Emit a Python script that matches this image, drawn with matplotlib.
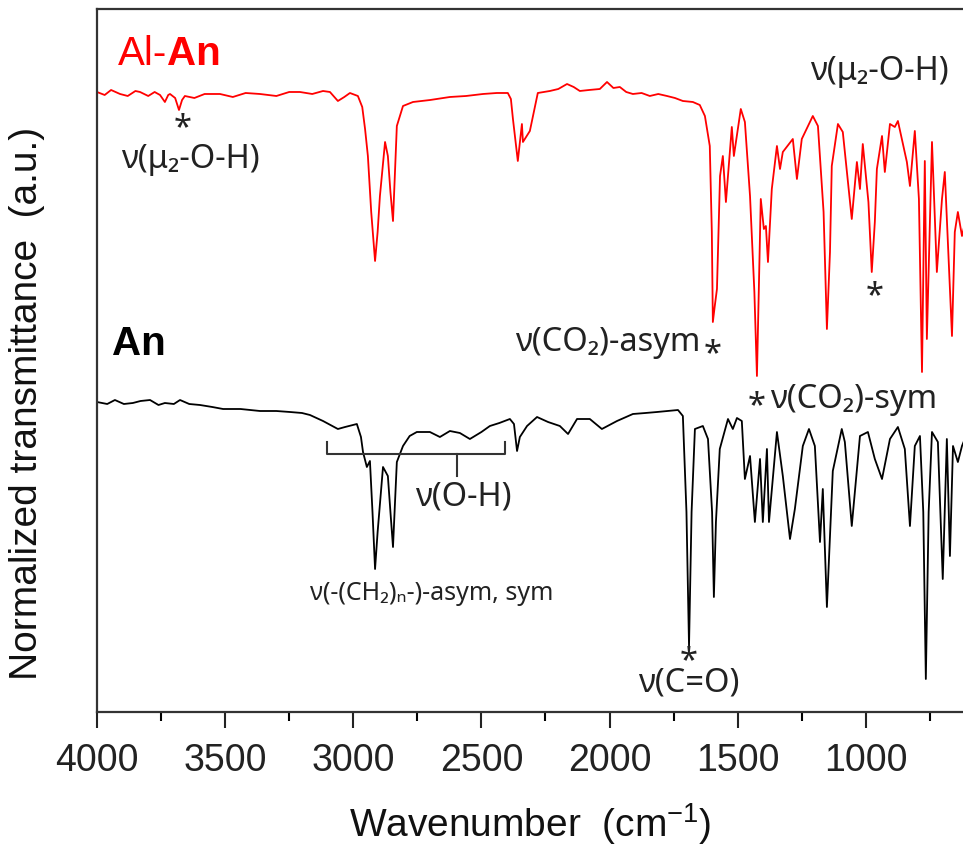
import matplotlib
matplotlib.use("Agg")
import matplotlib.pyplot as plt

plt.rcParams['font.family'] = ['Liberation Sans', 'DejaVu Sans']
plt.rcParams['mathtext.fontset'] = 'custom'
plt.rcParams['mathtext.rm'] = 'Liberation Sans'
plt.rcParams['mathtext.it'] = 'Liberation Sans:italic'
plt.rcParams['mathtext.bf'] = 'Liberation Sans:bold'

# ---- data: Al-An (red) ----
al_wn = [4000, 3970, 3945, 3910, 3880, 3850, 3832, 3800, 3775, 3754, 3735, 3722, 3715, 3695,
         3680, 3668, 3657, 3620, 3580, 3520, 3470, 3420, 3364, 3300, 3250, 3208, 3160, 3118,
         3091, 3060, 3035, 3013, 2982, 2965, 2954, 2943, 2930, 2915, 2905, 2896, 2876, 2865,
         2855, 2845, 2838, 2830, 2806, 2767, 2700, 2623, 2560, 2494, 2440, 2397, 2385, 2377,
         2358, 2342, 2338, 2311, 2280, 2233, 2200, 2166, 2140, 2116, 2080, 2038, 2010, 1985,
         1960, 1935, 1909, 1875, 1843, 1810, 1776, 1745, 1714, 1675, 1648, 1628, 1609, 1601,
         1597, 1590, 1581, 1569, 1558, 1546, 1523, 1515, 1488, 1472, 1452, 1435, 1425, 1418,
         1410, 1398, 1390, 1382, 1367, 1347, 1335, 1324, 1285, 1269, 1250, 1207, 1187, 1165,
         1152, 1140, 1133, 1109, 1090, 1055, 1035, 1023, 1012, 990, 977, 965, 957, 937, 926,
         906, 887, 875, 840, 828, 809, 793, 781, 770, 762, 742, 723, 703, 692, 664, 653,
         641, 625, 614]
al_t = [62.0, 61.7, 62.2, 61.8, 61.6, 62.1, 62.0, 61.6, 62.0, 61.7, 61.0, 61.7, 61.8, 61.4,
        60.2, 61.2, 61.6, 61.4, 61.8, 61.8, 61.5, 61.9, 61.8, 61.6, 62.0, 62.0, 61.8, 62.1,
        62.0, 61.1, 61.5, 61.9, 61.6, 60.5, 58.3, 55.6, 50.0, 45.1, 48.0, 51.6, 57.0, 55.6,
        52.0, 49.1, 53.5, 58.6, 60.6, 61.0, 61.2, 61.5, 61.6, 61.8, 61.9, 61.9, 61.3, 59.3,
        55.1, 58.8, 57.0, 58.1, 61.9, 62.1, 62.3, 62.8, 62.5, 62.1, 62.2, 62.3, 63.0, 62.4,
        62.5, 62.0, 61.8, 61.9, 61.6, 61.8, 61.6, 61.4, 61.1, 61.0, 60.7, 59.6, 56.6, 48.0,
        39.0, 40.5, 42.3, 53.6, 55.6, 51.0, 58.5, 55.6, 60.3, 59.0, 51.6, 42.0, 33.6, 42.0,
        51.3, 48.3, 48.6, 45.0, 52.3, 56.6, 54.3, 56.0, 57.3, 53.3, 57.3, 59.6, 58.6, 50.0,
        38.3, 46.0, 54.6, 58.8, 58.0, 49.3, 55.0, 52.3, 56.8, 51.0, 44.0, 49.0, 54.3, 57.6, 54.0,
        58.8, 58.5, 59.1, 55.0, 52.6, 58.1, 51.3, 34.0, 55.1, 37.3, 57.0, 44.0, 51.3, 54.0, 37.6,
        48.0, 50.0, 47.6, 48.8]

# ---- data: An (black) ----
an_wn = [4000, 3960, 3930, 3895, 3860, 3830, 3793, 3760, 3735, 3700, 3676, 3640, 3598, 3550,
         3508, 3440, 3364, 3300, 3247, 3200, 3169, 3118, 3060, 3032, 2986, 2970, 2962, 2947,
         2935, 2925, 2915, 2905, 2884, 2865, 2855, 2845, 2838, 2830, 2806, 2780, 2752, 2701,
         2662, 2623, 2584, 2545, 2500, 2467, 2430, 2389, 2373, 2361, 2350, 2322, 2283, 2240,
         2194, 2162, 2127, 2077, 2030, 1971, 1909, 1860, 1815, 1733, 1714, 1700, 1690, 1680,
         1667, 1636, 1616, 1600, 1593, 1585, 1570, 1538, 1519, 1503, 1484, 1472, 1452, 1433,
         1413, 1402, 1386, 1378, 1347, 1324, 1296, 1277, 1246, 1222, 1199, 1179, 1168, 1152,
         1129, 1094, 1082, 1055, 1023, 992, 965, 937, 906, 875, 848, 828, 809, 789, 776, 766,
         755, 742, 719, 700, 684, 672, 660, 641, 625, 614]
an_t = [31.0, 30.8, 31.2, 30.8, 30.9, 31.1, 31.2, 30.7, 30.9, 30.8, 31.2, 30.8, 30.7, 30.5,
        30.3, 30.3, 30.1, 30.1, 30.0, 29.9, 29.7, 29.1, 28.3, 28.5, 28.8, 27.5, 26.0, 24.5,
        25.1, 20.0, 14.3, 18.0, 24.5, 23.6, 20.0, 16.5, 20.5, 25.0, 26.6, 27.6, 28.0, 28.0,
        27.5, 28.1, 27.9, 27.3, 28.0, 28.6, 28.9, 29.3, 28.8, 26.1, 27.5, 28.6, 29.5, 29.0,
        28.6, 27.8, 29.3, 29.3, 28.3, 29.1, 29.8, 29.9, 30.0, 30.2, 29.6, 20.0, 6.6, 20.0,
        28.3, 28.6, 27.3, 20.0, 11.5, 19.0, 26.3, 29.3, 28.3, 29.4, 29.1, 23.3, 25.6, 19.0,
        25.3, 19.0, 26.3, 19.0, 28.0, 23.6, 17.3, 20.3, 26.6, 28.3, 26.6, 17.0, 22.3, 10.5,
        24.1, 28.3, 27.0, 18.6, 27.6, 28.0, 25.3, 23.3, 27.3, 28.5, 26.3, 18.6, 26.6, 27.6, 20.0,
        3.3, 20.0, 28.0, 27.0, 13.3, 27.3, 15.6, 26.6, 25.0, 26.6, 27.3]

x_ticks = [4000, 3500, 3000, 2500, 2000, 1500, 1000]
x_minor = [3750, 3250, 2750, 2250, 1750, 1250, 750]

fig = plt.figure(figsize=(9.63, 8.54), dpi=100)
ax = fig.add_axes([0.1007, 0.1651, 0.8993, 0.8232])

ax.plot(al_wn, al_t, color='#ff0000', lw=1.3)
ax.plot(an_wn, an_t, color='black', lw=1.3)

ax.set_xlim(4000, 621)
ax.set_ylim(0, 70.3)
ax.set_xticks(x_ticks)
ax.set_xticks(x_minor, minor=True)
ax.set_yticks([])
ax.tick_params(axis='x', which='major', direction='out', length=11.5, width=1.5,
               pad=10, labelsize=27, colors='#222222')
ax.tick_params(axis='x', which='minor', direction='out', length=6.5, width=1.5)
for s in ['left', 'bottom', 'top']:
    ax.spines[s].set_linewidth(1.6)
    ax.spines[s].set_color('#333333')
ax.spines['right'].set_visible(False)

ax.set_xlabel('Wavenumber  (cm$^{\\mathregular{-1}}$)', fontsize=28, labelpad=16, color='#111111')
ax.set_ylabel('Normalized transmittance  (a.u.)', fontsize=28, color='#111111')
ax.yaxis.set_label_coords(-0.06, 0.44)

ann = dict(family=['Noto Sans', 'DejaVu Sans'], color='#222222')

# sample labels
t1 = ax.text(3918, 64.0, 'Al-', fontsize=29, color='#ff0000', va='bottom', ha='left')
ax.annotate('An', xy=(1, 0), xycoords=t1, va='bottom', ha='left', fontsize=29,
            fontweight='bold', color='#ff0000')
ax.text(3941, 35.0, 'An', fontsize=29, fontweight='bold', color='black', va='bottom', ha='left')

# annotations
fs = 23.5
ax.text(3665, 58.4, '*', fontsize=fs, ha='center', va='center', **ann)
ax.text(3637, 55.3, 'ν(μ₂-O-H)', fontsize=fs, ha='center', va='center', **ann)
ax.text(949, 64.1, 'ν(μ₂-O-H)', fontsize=fs, ha='center', va='center', **ann)
ax.text(965, 41.6, '*', fontsize=fs, ha='center', va='center', **ann)
ax.text(1647, 37.0, 'ν(CO₂)-asym', fontsize=fs, ha='right', va='center', **ann)
ax.text(1597, 35.8, '*', fontsize=fs, ha='center', va='center', **ann)
ax.text(1425, 30.6, '*', fontsize=fs, ha='center', va='center', **ann)
ax.text(1374, 31.3, 'ν(CO₂)-sym', fontsize=fs, ha='left', va='center', **ann)
ax.text(2572, 21.6, 'ν(O-H)', fontsize=fs, ha='center', va='center', **ann)
ax.text(2693, 12.0, 'ν(-(CH₂)ₙ-)-asym, sym', fontsize=18, ha='center', va='center', **ann)
ax.text(1692, 1.4, '*\nν(C=O)', fontsize=fs, ha='center', va='bottom',
        multialignment='center', linespacing=0.5, **ann)

# bracket for O-H region
br_x = [3103, 3103, 2408, 2408]
br_y = [27.0, 25.8, 25.8, 27.0]
ax.plot(br_x, br_y, color='#333333', lw=1.5)
ax.plot([2596, 2596], [25.8, 23.6], color='#333333', lw=1.5)

fig.savefig('out.png', dpi=100)
